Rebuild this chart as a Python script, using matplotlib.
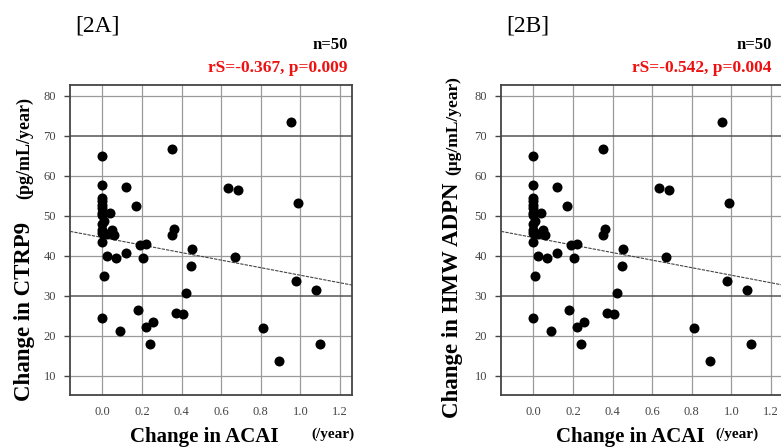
import numpy as np
import matplotlib
matplotlib.use("Agg")
import matplotlib.pyplot as plt

plt.rcParams['font.family'] = ['Liberation Serif', 'DejaVu Serif']

# change in ACAI (/year) and change in biomarker per subject (same values in both panels)
acai = [0.0, 0.0, 0.0, 0.0, 0.0, 0.0, 0.0, 0.0, 0.01, 0.0, 0.0, 0.0, 0.0, 0.0,
        0.01, 0.037, 0.05, 0.058, 0.025, 0.022, 0.069, 0.089, 0.121, 0.121,
        0.172, 0.179, 0.192, 0.222, 0.204, 0.221, 0.241, 0.254, 0.352, 0.36,
        0.352, 0.371, 0.406, 0.421, 0.448, 0.452, 0.632, 0.684, 0.671, 0.81,
        0.893, 0.954, 0.986, 0.976, 1.08, 1.097]
marker = [64.9, 57.8, 54.4, 53.6, 52.8, 51.9, 50.7, 50.2, 48.7, 48.0, 46.4, 45.8, 43.5, 24.6,
          35.0, 50.8, 46.5, 45.3, 45.4, 40.0, 39.6, 21.3, 57.1, 40.8,
          52.4, 26.5, 42.7, 42.9, 39.4, 22.2, 18.1, 23.6, 66.6, 46.8,
          45.1, 25.8, 25.5, 30.8, 37.6, 41.8, 56.9, 56.4, 39.8, 21.9,
          13.8, 73.4, 53.2, 33.7, 31.4, 18.1]

fit_intercept = 44.6
fit_slope = -9.43

panel_tags = ["[2A]", "[2B]"]
stats_text = ["rS=-0.367, p=0.009", "rS=-0.542, p=0.004"]
n_text = "n=50"
y_names = ["Change in CTRP9", "Change in HMW ADPN"]
y_units = ["(pg/mL/year)", "(μg/mL/year)"]
x_name = "Change in ACAI"
x_unit = "(/year)"
x_ticks = [0.0, 0.2, 0.4, 0.6, 0.8, 1.0, 1.2]
y_ticks = [10, 20, 30, 40, 50, 60, 70, 80]

W, H = 781, 447
fig = plt.figure(figsize=(W / 100, H / 100), dpi=100)


def fx(px):
    return px / W


def fy(py):
    return 1 - py / H


panel_left = [70, 501]
# label positions (pixels) per panel
ylab_x = [25, 453]
yname_y = [311, 300]
yunit_y = [148, 126]
yunit_size = [13, 12.5]
xname_x = [204, 630]
xunit_x = [333, 737]
right_edge = [348, 772]

for i, left in enumerate(panel_left):
    ax = fig.add_axes([fx(left), fy(395), fx(282), 310 / H])
    ax.set_xlim(-0.163, 1.26)
    ax.set_ylim(5.25, 82.7)
    ax.set_xticks(x_ticks)
    ax.set_xticklabels([f"{t:.1f}" for t in x_ticks])
    ax.set_yticks(y_ticks)
    ax.tick_params(axis='x', length=0, pad=8, labelsize=9, labelcolor='#444444')
    ax.tick_params(axis='y', length=4, width=1, color='#444444', pad=6,
                   labelsize=9, labelcolor='#444444')
    ax.grid(True, color='#9a9a9a', linewidth=0.9)
    for t, gl in zip(y_ticks, ax.yaxis.get_gridlines()):
        if t in (30, 70):
            gl.set_color('#555555')
            gl.set_linewidth(1.1)
    ax.set_axisbelow(True)
    for s in ax.spines.values():
        s.set_color('#444444')
        s.set_linewidth(1.3)

    ax.scatter(acai, marker, s=52, color='black', zorder=3, linewidths=0)
    xs = np.array(ax.get_xlim())
    ax.plot(xs, fit_intercept + fit_slope * xs, color='#444444', lw=0.8,
            linestyle=(0, (3, 1)), zorder=2)

    # panel tag, n and correlation
    fig.text(fx(left + 5), fy(26), panel_tags[i], fontsize=17, va='center', ha='left')
    fig.text(fx(right_edge[i]), fy(45), n_text, fontsize=12, fontweight='bold',
             va='center', ha='right')
    fig.text(fx(right_edge[i]), fy(68), stats_text[i], fontsize=12.5, fontweight='bold',
             color='#ee1111', va='center', ha='right')

    # axis labels
    fig.text(fx(ylab_x[i]), fy(yname_y[i]), y_names[i], fontsize=16.5, fontweight='bold',
             rotation=90, va='center', ha='center')
    fig.text(fx(ylab_x[i]), fy(yunit_y[i]), y_units[i], fontsize=yunit_size[i],
             fontweight='bold', rotation=90, va='center', ha='center')
    fig.text(fx(xname_x[i]), fy(437), x_name, fontsize=15, fontweight='bold',
             va='center', ha='center')
    fig.text(fx(xunit_x[i]), fy(434), x_unit, fontsize=11, fontweight='bold',
             va='center', ha='center')

fig.savefig("out.png", dpi=100)
